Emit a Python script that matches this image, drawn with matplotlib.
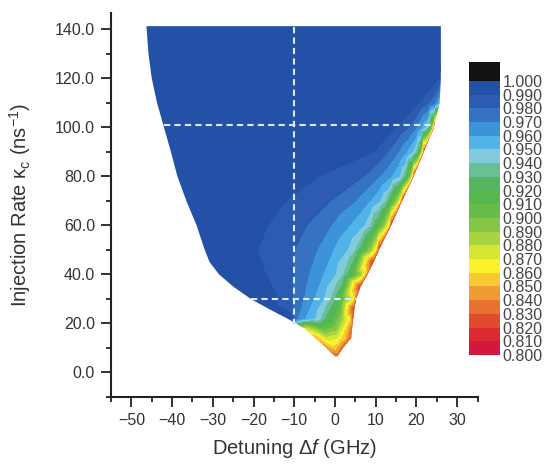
import numpy as np
import matplotlib
matplotlib.use("Agg")
import matplotlib.pyplot as plt
import matplotlib.tri as mtri
from matplotlib.colors import ListedColormap, BoundaryNorm
from matplotlib.patches import Polygon

plt.rcParams['font.family'] = ['Liberation Sans', 'DejaVu Sans']
plt.rcParams['mathtext.fontset'] = 'custom'
plt.rcParams['mathtext.rm'] = 'Liberation Sans'
plt.rcParams['mathtext.it'] = 'Liberation Sans:italic'

# colour levels of the map (0.800 ... 1.000 in 0.010 steps)
levels = np.round(np.arange(0.80, 1.0001, 0.01), 3)
level_colors = [
    '#d6173d', '#db2b31', '#e04b2d', '#e7712e', '#ef9d33',
    '#f7c932', '#fdf12a', '#d6e733', '#a9d441', '#84c646',
    '#66bd4a', '#55b84e', '#56b55f', '#69bf96', '#82cbdc',
    '#52b3e8', '#3d93d8', '#3572c2', '#2b5cb2', '#2451a8',
]
over_color = '#111111'

# outline of the locking region: detuning (GHz) at each injection rate (ns^-1)
edge_y = [141.3, 130, 120, 110, 100, 90, 80, 70, 60, 50, 45, 40, 35, 30, 26, 22, 18, 14, 10, 6.5]
edge_left = [-46.3, -45.8, -45.0, -43.7, -42.0, -40.3, -38.7, -36.5, -34.0, -32.0,
             -30.8, -28.5, -25.0, -20.7, -16.3, -11.7, -7.5, -4.8, -2.2, 0.0]
edge_right = [26.0, 26.0, 26.0, 25.7, 24.3, 21.8, 19.3, 16.5, 13.8, 10.8,
              9.5, 8.0, 6.3, 5.2, 4.8, 4.5, 4.2, 4.0, 2.0, 0.6]
edge_left_v = [0.995] * 16 + [0.87, 0.845, 0.84, 0.83]
edge_right_v = [0.993, 0.992, 0.988, 0.95, 0.815, 0.815, 0.815, 0.815, 0.815, 0.815,
                0.815, 0.815, 0.815, 0.815, 0.815, 0.82, 0.83, 0.825, 0.83, 0.83]

# detuning where each row crosses a colour level
row_y = [120, 110, 100, 90, 80, 70, 60, 50, 40, 30, 22]
nan = np.nan
cross_levels = [0.99, 0.98, 0.97, 0.96, 0.95, 0.94, 0.92, 0.89, 0.86]
cross_099 = [25.5, 20.5, 15.0, 9.5, -4.0, -12.0, -16.5, -19.0, -17.0, -14.0, -10.5]
cross_098 = [nan, 23.0, 18.0, 13.0, 7.0, -1.0, -7.0, -10.0, -10.3, -10.5, -10.0]
cross_097 = [nan, 24.5, 20.0, 15.5, 11.0, 5.0, -1.0, -4.5, -6.5, -7.8, -9.3]
cross_096 = [nan, 25.2, 21.2, 17.5, 13.8, 8.5, 3.5, -0.5, -3.0, -5.3, -7.5]
cross_095 = [nan, nan, 22.2, 19.0, 15.8, 11.0, 7.0, 3.0, 0.0, -2.8, -5.0]
cross_094 = [nan, nan, 22.7, 19.8, 16.6, 12.2, 8.6, 4.8, 1.8, -1.2, -3.5]
cross_092 = [nan, nan, 23.2, 20.5, 17.6, 13.5, 10.2, 6.5, 3.8, 0.8, -1.5]
cross_089 = [nan, nan, 23.7, 21.0, 18.4, 15.0, 12.0, 8.6, 6.0, 3.0, 1.5]
cross_086 = [nan, nan, 24.0, 21.4, 18.9, 15.9, 13.1, 10.0, 7.3, 4.5, 3.6]
cross_x = [cross_099, cross_098, cross_097, cross_096, cross_095,
           cross_094, cross_092, cross_089, cross_086]

# samples inside the bottom tip
tip_x = [-3.0, 0.0, 2.5, -2.0, 0.5, 2.5, 0.0]
tip_y = [18, 18, 18, 14, 14, 14, 10]
tip_v = [0.905, 0.895, 0.86, 0.875, 0.87, 0.85, 0.855]

# dashed guide lines
guide_x, guide_x_span = -10, (19.5, 141.3)
guide_y = [100.8, 30.0]
guide_y_spans = [(-42.1, 24.4), (-20.7, 5.4)]

pts_x = list(edge_left) + list(edge_right) + list(tip_x)
pts_y = list(edge_y) + list(edge_y) + list(tip_y)
pts_v = list(edge_left_v) + list(edge_right_v) + list(tip_v)
for lvl, xs in zip(cross_levels, cross_x):
    for y, x in zip(row_y, xs):
        if not np.isnan(x):
            pts_x.append(x)
            pts_y.append(y)
            pts_v.append(lvl)

cmap = ListedColormap(level_colors)
cmap.set_over(over_color)
norm = BoundaryNorm(levels, cmap.N)

fig = plt.figure(figsize=(5.45, 4.66), dpi=100)
ax = fig.add_axes([0.2037, 0.1485, 0.6725, 0.8227])

tri = mtri.Triangulation(pts_x, pts_y)
cs = ax.tricontourf(tri, pts_v, levels=levels, cmap=cmap, norm=norm)
outline = list(zip(edge_left, edge_y)) + list(zip(edge_right, edge_y))[::-1]
region = Polygon(outline, closed=True, transform=ax.transData,
                 facecolor='none', edgecolor='none')
cs.set_clip_path(region)

dash_kw = dict(color='#dfe8f5', lw=1.5, linestyle=(0, (3, 2)))
ax.plot([guide_x, guide_x], guide_x_span, **dash_kw)
for gy, (x0, x1) in zip(guide_y, guide_y_spans):
    ax.plot([x0, x1], [gy, gy], **dash_kw)

ax.set_xlim(-55, 35)
ax.set_ylim(-10, 146.5)
ax.set_xticks(range(-50, 31, 10))
ax.set_xticks(range(-55, 36, 5), minor=True)
ax.set_yticks(range(0, 141, 20))
ax.set_yticks(range(-10, 147, 10), minor=True)
ax.yaxis.set_major_formatter('{x:.1f}')
for side in ['top', 'right']:
    ax.spines[side].set_visible(False)
for side in ['left', 'bottom']:
    ax.spines[side].set_linewidth(1.5)
    ax.spines[side].set_color('#222222')
ax.tick_params(which='major', direction='out', length=7, width=1.3,
               labelsize=11.5, pad=4.5, color='#222222', labelcolor='#333333')
ax.tick_params(which='minor', direction='out', length=3.5, width=1.3, color='#222222')

ax.set_xlabel(r'Detuning $\Delta f$ (GHz)', fontsize=14.5, color='#333333')
ax.set_ylabel(r'Injection Rate $\mathrm{\kappa}_\mathrm{c}$ (ns$^{-1}$)',
              fontsize=14.5, color='#333333')
ax.xaxis.set_label_coords(0.5, -0.105)
ax.yaxis.set_label_coords(-0.213, 0.5)

cax = fig.add_axes([0.8606, 0.2382, 0.0569, 0.6288])
sm = plt.cm.ScalarMappable(cmap=cmap, norm=norm)
cb = fig.colorbar(sm, cax=cax, extend='max', extendrect=True, extendfrac=0.069,
                  ticks=levels, spacing='uniform')
cb.outline.set_visible(False)
cb.ax.tick_params(length=0, labelsize=11.5, pad=2, labelcolor='#444444')
cb.ax.set_yticklabels([f'{v:.3f}' for v in levels])

fig.savefig('out.png', dpi=100)
